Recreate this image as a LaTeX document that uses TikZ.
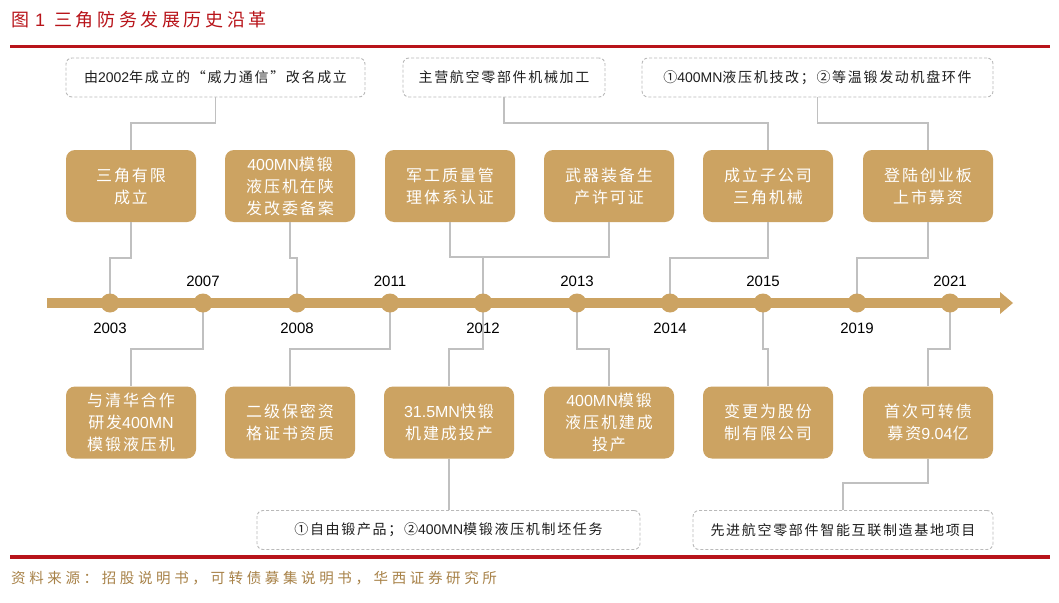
\documentclass[tikz,border=0pt]{standalone}
\usepackage{fontspec}
\setmainfont{Noto Sans CJK SC}
\newfontfamily\cjk[LetterSpace=12]{Noto Sans CJK SC}
\newfontfamily\cjkT[LetterSpace=20]{Noto Sans CJK SC}
\newfontfamily\cjkS[LetterSpace=25]{Noto Sans CJK SC}
\newfontfamily\lat{Liberation Sans}
\definecolor{boxtan}{RGB}{204,163,98}
\definecolor{hxred}{RGB}{184,20,26}
\definecolor{srcbrown}{RGB}{168,130,72}
\definecolor{connGray}{RGB}{192,192,192}
\definecolor{dashGray}{RGB}{185,185,185}
\begin{document}
\begin{tikzpicture}[x=1pt,y=-1pt,
  tanbox/.style={fill=boxtan, rounded corners=9pt, minimum width=130pt, minimum height=72pt,
    inner sep=0pt, align=center, text=white, font=\cjk\fontsize{16}{22}\selectfont},
  dashbox/.style={draw=dashGray, line width=0.9pt, dash pattern=on 3pt off 2pt, rounded corners=6pt,
    minimum height=39pt, inner sep=0pt, text=black!88, font=\cjk\fontsize{14}{16}\selectfont},
  conn/.style={draw=connGray, line width=1.4pt},
  year/.style={font=\lat\fontsize{15}{18}\selectfont, text=black},
  dotc/.style={circle, fill=boxtan, minimum size=19pt, inner sep=0pt}]
\useasboundingbox (0,0) rectangle (1059,602);
\fill[white] (0,0) rectangle (1059,602);

% title and rules
\node[anchor=west, text=hxred, font=\cjkT\fontsize{18}{20}\selectfont, inner sep=0pt] (title) at (11,20)
  {图\hspace{6pt}{\lat 1}\hspace{9pt}三角防务发展历史沿革};
\fill[hxred] (10,45) rectangle (1050,48.5);
\fill[hxred] (10,555) rectangle (1050,558.5);
\node[anchor=west, text=srcbrown, font=\cjkS\fontsize{14.5}{16}\selectfont, inner sep=0pt] (src) at (11,578)
  {资料来源：招股说明书，可转债募集说明书，华西证券研究所};

% dots positions
\coordinate (y2003) at (110,303);
\coordinate (y2007) at (203,303);
\coordinate (y2008) at (297,303);
\coordinate (y2011) at (390,303);
\coordinate (y2012) at (483,303);
\coordinate (y2013) at (577,303);
\coordinate (y2014) at (670,303);
\coordinate (y2015) at (763,303);
\coordinate (y2019) at (857,303);
\coordinate (y2021) at (950,303);

% dashed boxes
\node[dashbox, minimum width=299pt] (d1) at (215.5,77.5) {由{\lat 2002}年成立的“威力通信”改名成立};
\node[dashbox, minimum width=202pt] (d2) at (504,77.5) {主营航空零部件机械加工};
\node[dashbox, minimum width=351pt] (d3) at (817.5,77.5) {①{\lat 400MN}液压机技改；②等温锻发动机盘环件};
\node[dashbox, minimum width=383pt] (e1) at (448.5,530) {①自由锻产品；②{\lat 400MN}模锻液压机制坯任务};
\node[dashbox, minimum width=300pt] (e2) at (843,530) {先进航空零部件智能互联制造基地项目};

% top boxes
\node[tanbox] (t1) at (131,186) {三角有限\\成立};
\node[tanbox] (t2) at (290,186) {{\lat 400MN}模锻\\液压机在陕\\发改委备案};
\node[tanbox] (t3) at (450,186) {军工质量管\\理体系认证};
\node[tanbox] (t4) at (609,186) {武器装备生\\产许可证};
\node[tanbox] (t5) at (768,186) {成立子公司\\三角机械};
\node[tanbox] (t6) at (928,186) {登陆创业板\\上市募资};

% bottom boxes
\node[tanbox] (b1) at (131,422.5) {与清华合作\\研发{\lat 400MN}\\模锻液压机};
\node[tanbox] (b2) at (290,422.5) {二级保密资\\格证书资质};
\node[tanbox] (b3) at (449,422.5) {{\lat 31.5MN}快锻\\机建成投产};
\node[tanbox] (b4) at (609,422.5) {{\lat 400MN}模锻\\液压机建成\\投产};
\node[tanbox] (b5) at (768,422.5) {变更为股份\\制有限公司};
\node[tanbox] (b6) at (928,422.5) {首次可转债\\募资{\lat 9.04}亿};

% connectors top
\draw[conn] (d1.south) -- (d1.south |- 0,123) -| (t1.north);
\draw[conn] (d2.south) -- (d2.south |- 0,123) -| (t5.north);
\draw[conn] (d3.south) -- (d3.south |- 0,123) -| (t6.north);
\draw[conn] (t1.south) -- (t1.south |- 0,258) -| (y2003);
\draw[conn] (t2.south) -- (t2.south |- 0,258) -| (y2008);
\draw[conn] (t3.south) -- (t3.south |- 0,257) -| (y2012);
\draw[conn] (t4.south) -- (t4.south |- 0,257) -| (y2012);
\draw[conn] (t5.south) -- (t5.south |- 0,258) -| (y2014);
\draw[conn] (t6.south) -- (t6.south |- 0,258) -| (y2019);
% connectors bottom
\draw[conn] (y2007) |- (b1.north |- 0,349) -- (b1.north);
\draw[conn] (y2011) |- (b2.north |- 0,349) -- (b2.north);
\draw[conn] (y2012) |- (b3.north |- 0,349) -- (b3.north);
\draw[conn] (y2013) |- (b4.north |- 0,349) -- (b4.north);
\draw[conn] (y2015) |- (b5.north |- 0,349) -- (b5.north);
\draw[conn] (y2021) |- (b6.north |- 0,349) -- (b6.north);
\draw[conn] (b3.south) -- (b3.south |- e1.north);
\draw[conn] (b6.south) -- (b6.south |- 0,483) -| (e2.north);

% timeline
\fill[boxtan] (47,298) rectangle (1002,308);
\fill[boxtan] (1000,292) -- (1013,303) -- (1000,314) -- cycle;
\foreach \y in {2003,2007,2008,2011,2012,2013,2014,2015,2019,2021}
  \node[dotc] at (y\y) {};

% year labels
\node[year] (l2003) at (110,328) {2003};
\node[year] (l2007) at (203,281) {2007};
\node[year] (l2008) at (297,328) {2008};
\node[year] (l2011) at (390,281) {2011};
\node[year] (l2012) at (483,328) {2012};
\node[year] (l2013) at (577,281) {2013};
\node[year] (l2014) at (670,328) {2014};
\node[year] (l2015) at (763,281) {2015};
\node[year] (l2019) at (857,328) {2019};
\node[year] (l2021) at (950,281) {2021};
\end{tikzpicture}
\end{document}
